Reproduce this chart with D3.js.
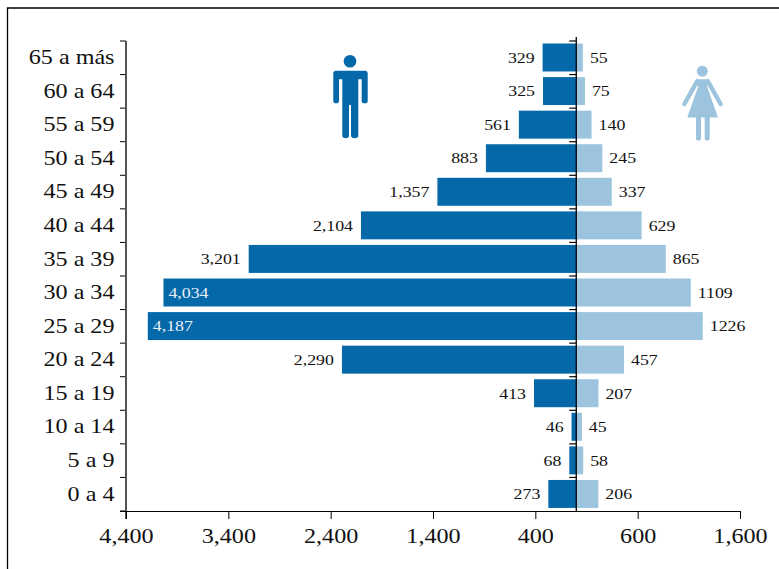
<!DOCTYPE html>
<html>
<head>
<meta charset="utf-8">
<script src="https://cdn.jsdelivr.net/npm/d3@7"></script>
<style>
html, body { margin: 0; padding: 0; background: #fff; }
svg { display: block; }
text { font-family: "Liberation Serif", serif; fill: #111; }
.big { font-size: 21px; }
.small { font-size: 15.5px; }
</style>
</head>
<body>
<svg id="chart" width="779" height="569"></svg>
<script>
// Population by age group and sex
const ageGroups = ["65 a más","60 a 64","55 a 59","50 a 54","45 a 49","40 a 44","35 a 39","30 a 34","25 a 29","20 a 24","15 a 19","10 a 14","5 a 9","0 a 4"];
const men = [329,325,561,883,1357,2104,3201,4034,4187,2290,413,46,68,273];
const women = [55,75,140,245,337,629,865,1109,1226,457,207,45,58,206];
const xTicks = [-4400,-3400,-2400,-1400,-400,600,1600];
const menColor = "#0468a9";
const womenColor = "#9cc4de";

// Serif glyphs widened horizontally for a rounder, wider text face
const bigStretch = 1.15;
const smallStretch = 1.15;
const placed = (px, py, stretch) => `translate(${px},${py}) scale(${stretch},1)`;

const svg = d3.select("#chart");
const x = d3.scaleLinear().domain([-4400, 1600]).range([126, 740]);
const y = d3.scaleBand().domain(ageGroups).range([41, 511]).paddingInner(0.167).paddingOuter(0.083).align(0.45);
const boundaries = d3.scaleBand().domain(ageGroups).range([41, 511]);
// Women's bars begin just past the centre line
const xWomen = d3.scaleLinear().domain([0, 1600]).range([x(0) + 1, x(1600) + 1]);

// outer frame, open at the right and bottom edges
svg.append("path").attr("d", "M7.5,569V8H779").attr("fill", "none").attr("stroke", "#000").attr("stroke-width", 1.3);

// bars
svg.append("g").selectAll("rect").data(men).join("rect")
  .attr("x", d => x(-d)).attr("width", d => x(0) - x(-d))
  .attr("y", (d, i) => y(ageGroups[i])).attr("height", y.bandwidth())
  .attr("fill", menColor);
svg.append("g").selectAll("rect").data(women).join("rect")
  .attr("x", x(0)).attr("width", d => xWomen(d) - x(0))
  .attr("y", (d, i) => y(ageGroups[i])).attr("height", y.bandwidth())
  .attr("fill", womenColor);

// value labels
const insideFrom = 3500;
svg.append("g").selectAll("text").data(men).join("text")
  .attr("class", "small")
  .attr("transform", (d, i) => placed(d > insideFrom ? x(-d) + 5 : x(-d) - 8, y(ageGroups[i]) + y.bandwidth() / 2, smallStretch))
  .attr("dy", "0.34em")
  .attr("text-anchor", d => d > insideFrom ? "start" : "end")
  .style("fill", d => d > insideFrom ? "#e8f0f8" : "#111")
  .text(d => d3.format(",")(d));
svg.append("g").selectAll("text").data(women).join("text")
  .attr("class", "small")
  .attr("transform", (d, i) => placed(xWomen(d) + 7, y(ageGroups[i]) + y.bandwidth() / 2, smallStretch))
  .attr("dy", "0.34em")
  .text(d => d);

// left axis: ticks on group boundaries
const leftAxis = svg.append("g");
const edges = ageGroups.map(a => boundaries(a));
leftAxis.selectAll(".tick").data(edges.concat(511)).join("line").attr("class", "tick")
  .attr("x1", 120).attr("x2", 126).attr("y1", d => d).attr("y2", d => d)
  .attr("stroke", "#000");
leftAxis.selectAll("text").data(ageGroups).join("text")
  .attr("class", "big")
  .attr("transform", d => placed(114.5, boundaries(d) + boundaries.bandwidth() / 2, bigStretch))
  .attr("dy", "0.3em").attr("text-anchor", "end")
  .text(d => d);

// centre axis with the same boundary ticks
const centre = svg.append("g");
centre.selectAll("line.tick").data(edges).join("line").attr("class", "tick")
  .attr("x1", x(0) - 7).attr("x2", x(0)).attr("y1", d => d).attr("y2", d => d)
  .attr("stroke", "#000").attr("stroke-width", 1.2);
centre.append("line").attr("x1", x(0)).attr("x2", x(0)).attr("y1", 37).attr("y2", 511).attr("stroke", "#000").attr("stroke-width", 1.3);

// bottom axis
const bottom = svg.append("g").attr("transform", "translate(0,511)")
  .call(d3.axisBottom(x).tickValues(xTicks).tickSize(8).tickSizeOuter(0).tickFormat(d => d3.format(",")(Math.abs(d))));
bottom.select(".domain").attr("stroke", "#000").attr("d", "M120,0.5H740.5");
bottom.selectAll("text").attr("class", "big").attr("dy", "1.02em").attr("transform", `scale(${bigStretch},1)`);

// left spine drawn over the bottom axis
leftAxis.append("line").attr("x1", 126).attr("x2", 126).attr("y1", 41).attr("y2", 519).attr("stroke", "#555").attr("stroke-width", 2);

// man pictogram
const man = svg.append("g").attr("fill", menColor);
man.append("circle").attr("cx", 350).attr("cy", 61.3).attr("r", 6.3);
man.append("path").attr("d", "M336,70.7H365Q367.7,70.7 367.7,73.4V101Q367.7,103.3 364.7,103.3Q361.7,103.3 361.7,101V79.3H358.3V135.5Q358.3,138.3 354.7,138.3Q351,138.3 351,135.5V105H349V135.5Q349,138.3 345.7,138.3Q342.3,138.3 342.3,135.5V79.3H339V101Q339,103.3 336.2,103.3Q333.3,103.3 333.3,101V73.4Q333.3,70.7 336,70.7Z");

// woman pictogram
const woman = svg.append("g").attr("fill", womenColor);
woman.append("circle").attr("cx", 702.3).attr("cy", 71.2).attr("r", 5.5);
woman.append("path").attr("d", "M696,79.3H709L707.3,87L718,117.5H687.3L698,87Z");
woman.append("path").attr("d", "M696,117H701V138Q701,140.6 698.5,140.6Q696,140.6 696,138ZM704.7,117H709.7V138Q709.7,140.6 707.2,140.6Q704.7,140.6 704.7,138Z");
woman.append("path").attr("d", "M697.2,81.2L684.4,104M707.8,81.2L720.6,104").attr("fill", "none").attr("stroke", womenColor).attr("stroke-width", 4.4).attr("stroke-linecap", "round");
</script>
</body>
</html>
